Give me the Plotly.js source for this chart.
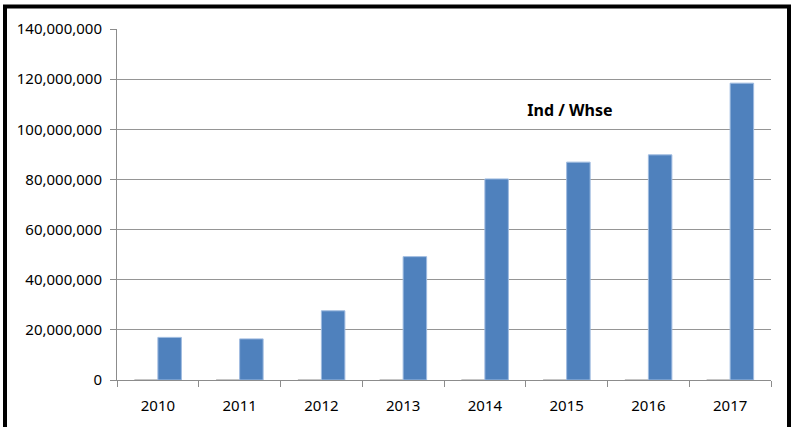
<!DOCTYPE html>
<html>
<head>
<meta charset="utf-8">
<script src="https://cdn.plot.ly/plotly-3.0.1.min.js"></script>
<style>
  html, body { margin: 0; padding: 0; background: #fff; }
  #chart { width: 796px; height: 427px; }
</style>
</head>
<body>
<div id="chart"></div>
<script>
const years = ["2010", "2011", "2012", "2013", "2014", "2015", "2016", "2017"];
const otherValues = [200000, 200000, 200000, 200000, 200000, 200000, 200000, 200000];
const indWhseValues = [17000000, 16400000, 27600000, 49200000, 80200000, 86900000, 89800000, 118400000];
const yTickValues = [0, 20000000, 40000000, 60000000, 80000000, 100000000, 120000000, 140000000];
const yTickLabels = ["0", "20,000,000", "40,000,000", "60,000,000", "80,000,000", "100,000,000", "120,000,000", "140,000,000"];
const chartTitle = "Ind / Whse";

const font = "Noto Sans, Open Sans, sans-serif";

const traces = [
  {
    type: "bar",
    x: years,
    y: otherValues,
    marker: { color: "#8c8c8c" },
    hoverinfo: "skip",
    showlegend: false
  },
  {
    type: "bar",
    x: years,
    y: indWhseValues,
    marker: { color: "#4F81BD", line: { color: "#9fbbe0", width: 1 } },
    showlegend: false
  }
];

const layout = {
  width: 796,
  height: 427,
  margin: { l: 117, r: 25, t: 29, b: 47 },
  paper_bgcolor: "#ffffff",
  plot_bgcolor: "#ffffff",
  barmode: "group",
  bargap: 0.425,
  bargroupgap: 0,
  font: { family: font, size: 15, color: "#000" },
  title: {
    text: "<b>" + chartTitle + "</b>",
    font: { family: font, size: 16, color: "#000" },
    x: 0.716, xanchor: "center", xref: "container",
    y: 0.742, yanchor: "middle", yref: "container"
  },
  xaxis: {
    type: "category",
    showline: true,
    linecolor: "#8c8c8c",
    linewidth: 1,
    ticks: "outside",
    tickson: "boundaries",
    ticklen: 6,
    tickcolor: "#8c8c8c",
    showgrid: false,
    tickfont: { family: font, size: 15, color: "#000" },
    ticklabelstandoff: 12
  },
  yaxis: {
    range: [0, 140000000],
    tickvals: yTickValues,
    ticktext: yTickLabels,
    showline: true,
    linecolor: "#8c8c8c",
    linewidth: 1,
    ticks: "outside",
    ticklen: 6,
    tickcolor: "#8c8c8c",
    showgrid: true,
    gridcolor: "#959595",
    gridwidth: 1,
    zeroline: false,
    tickfont: { family: font, size: 15, color: "#000" },
    ticklabelstandoff: 5
  },
  shapes: [
    {
      type: "rect",
      xref: "paper", yref: "paper",
      x0: (5 - 117) / 654, x1: (789 - 117) / 654,
      y0: (380 - 445) / 351, y1: (380 - 6.5) / 351,
      line: { color: "#000", width: 4 },
      fillcolor: "rgba(0,0,0,0)",
      layer: "above"
    }
  ]
};

Plotly.newPlot("chart", traces, layout, { displayModeBar: false, staticPlot: true });
</script>
</body>
</html>
